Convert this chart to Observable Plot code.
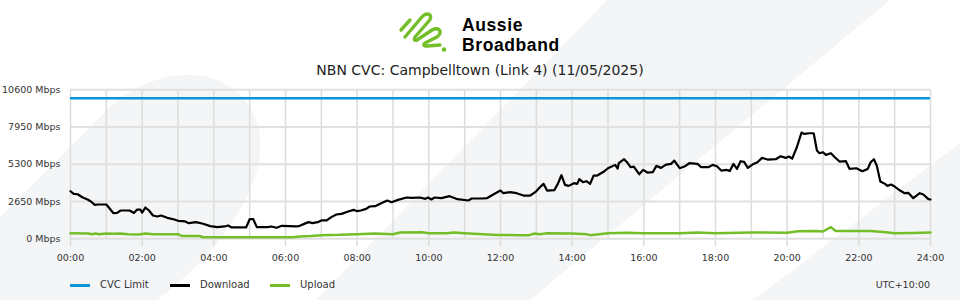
<!DOCTYPE html>
<html>
<head>
<meta charset="utf-8">
<script src="https://cdn.jsdelivr.net/npm/d3@7"></script>
<script src="https://cdn.jsdelivr.net/npm/@observablehq/plot@0.6"></script>
<style>
  body { margin: 0; background: #fff; font-family: "DejaVu Sans", sans-serif; }
  #wrap { position: relative; width: 960px; height: 300px; overflow: hidden; }
  #bg { position: absolute; left: 0; top: 0; }
  #header { position: absolute; left: 0; top: 0; }
  #title { position: absolute; left: 0; top: 61px; width: 960px; text-align: center; font-size: 14px; color: #222; line-height: 18px; }
  #chart { position: absolute; left: 0; top: 80px; }
  #legend { position: absolute; left: 0; top: 277px; width: 960px; height: 16px; font-size: 10px; color: #333; }
  .item { position: absolute; top: 0; height: 16px; line-height: 16px; }
  .sw { position: absolute; top: 7px; width: 20px; height: 2.5px; }
  .lab { position: absolute; left: 30px; white-space: nowrap; }
  #tz { position: absolute; right: 30px; top: 0; line-height: 16px; font-size: 9.5px; }
</style>
</head>
<body>
<div id="wrap">
  <svg id="bg" width="960" height="300">
    <path d="M0,217 L110,107 C150,68 235,55 258,125 C272,175 225,250 157,300 L0,300 Z" fill="#f4f5f7"/>
    <polygon points="607,0 890,0 530,300 316,300" fill="#f4f5f7"/>
    <polygon points="960,143 960,300 753,300" fill="#f4f5f7"/>
  </svg>
  <svg id="header" width="960" height="60">
    <g fill="none" stroke="#74be2a" stroke-width="3.4" stroke-linecap="round" stroke-linejoin="round">
      <path d="M401,30 L410,20"/>
      <path d="M405,37 L421,18 Q426,12 430,15 Q432,18 428,22 L415,37 Q413,41 417,40 L432,30 Q438,27 440,31 Q441,35 435,38 L425,43 Q422,46 427,46 L440,45"/>
    </g>
    <circle cx="444" cy="49.5" r="2.3" fill="#74be2a"/>
    <text x="462" y="30.5" font-family="Liberation Sans" font-weight="700" font-size="17.5" letter-spacing="0.6" fill="#000">Aussie</text>
    <text x="462" y="50.5" font-family="Liberation Sans" font-weight="700" font-size="17.5" letter-spacing="0.6" fill="#000">Broadband</text>
  </svg>
  <div id="title">NBN CVC: Campbelltown (Link 4) (11/05/2025)</div>
  <div id="chart"></div>
  <div id="legend"></div>
</div>
<script>
// ---- data ----
const cvcLimit = 10000;

const downloadTime = [0,0.09,0.2,0.33,0.49,0.56,0.68,0.76,1.0,1.12,1.2,1.3,1.4,1.65,1.77,1.86,1.95,2.0,2.09,2.19,2.3,2.42,2.53,2.7,2.9,3.0,3.2,3.3,3.5,3.7,3.9,4.1,4.3,4.4,4.5,4.9,5.0,5.1,5.2,5.5,5.6,5.75,5.9,6.1,6.3,6.4,6.57,6.65,6.75,6.9,7.0,7.14,7.28,7.42,7.56,7.75,7.9,8.0,8.1,8.25,8.35,8.5,8.7,8.84,8.96,9.14,9.38,9.52,9.75,9.9,9.98,10.07,10.16,10.35,10.58,10.8,11.1,11.2,11.5,11.63,11.86,12.0,12.08,12.27,12.45,12.64,12.83,12.97,13.1,13.2,13.3,13.5,13.6,13.7,13.8,13.9,14.05,14.14,14.2,14.3,14.4,14.5,14.6,14.7,14.9,15.0,15.2,15.27,15.3,15.45,15.53,15.63,15.72,15.87,15.98,16.1,16.25,16.35,16.48,16.62,16.76,16.85,17.0,17.13,17.27,17.5,17.6,17.8,17.92,18.04,18.16,18.3,18.4,18.5,18.6,18.7,18.8,18.9,19.03,19.17,19.3,19.45,19.68,19.82,19.96,20.05,20.14,20.27,20.4,20.48,20.62,20.74,20.83,20.9,21.0,21.08,21.22,21.33,21.46,21.64,21.74,21.93,22.1,22.25,22.33,22.42,22.5,22.6,22.73,22.8,22.9,23.0,23.15,23.28,23.38,23.52,23.7,23.8,23.94,24.0];
const downloadMbps = [3384,3199,3170,2958,2773,2673,2417,2440,2440,2062,1820,1840,2012,2012,1840,2080,2080,1865,2225,2012,1657,1586,1657,1493,1375,1280,1233,1115,1186,1067,902,830,878,949,807,807,1394,1394,830,830,878,783,925,902,878,925,1115,1186,1115,1186,1304,1304,1540,1730,1775,1940,2060,1965,2012,2130,2297,2320,2560,2723,2606,2770,2938,2914,2938,2843,2938,2796,2938,2890,3032,2820,2723,2867,2867,2900,3244,3434,3244,3315,3244,3078,3078,3315,3670,3908,3434,3458,3908,4522,3837,3766,3956,3908,4239,4027,4098,3908,4500,4500,4808,5021,5259,4997,5377,5662,5448,5092,5140,4594,4903,4713,4737,5188,5046,5282,5330,5567,5021,5140,5377,5330,5092,5092,5259,5164,4855,4903,4832,5330,4974,5520,5472,5046,5282,5448,5757,5638,5662,5875,5757,5851,5709,6513,7558,7463,7510,7510,6278,6088,6159,5970,6088,5804,5496,5520,4974,5021,4808,4974,5448,5662,5211,4074,3908,3766,3861,3719,3434,3244,3268,2889,3244,3149,2820,2796];

const uploadTime = [0,0.5,0.6,0.7,0.8,1.0,1.2,1.4,1.6,1.9,2.1,2.3,3.0,3.1,3.6,3.7,6.2,6.4,6.7,7.0,7.5,8.0,8.5,9.0,9.2,9.8,10.0,10.5,10.7,11.0,11.9,12.5,12.8,12.95,13.1,13.3,14.0,14.4,14.5,15.0,15.5,16.0,17.0,17.5,18.0,19.0,20.0,20.3,20.8,21.0,21.22,21.35,22.3,22.6,23.0,23.5,24.0];
const uploadMbps = [400,380,330,380,330,380,360,380,330,310,380,330,330,200,200,114,114,170,200,260,280,330,380,330,450,470,400,400,450,400,270,260,260,380,330,400,380,330,260,400,430,400,400,440,400,450,430,540,560,520,830,560,560,500,400,420,450];

const yTicks = [0, 2650, 5300, 7950, 10600];
const hourGrid = [0,1,2,3,4,5,6,7,8,9,10,11,12,13,14,15,16,17,18,19,20,21,22,23,24];
const labelHours = [0,2,4,6,8,10,12,14,16,18,20,22,24];
const labelText = ["00:00","02:00","04:00","06:00","08:00","10:00","12:00","14:00","16:00","18:00","20:00","22:00","24:00"];

const seriesNames = ["CVC Limit", "Download", "Upload"];
const seriesColors = ["#0a96d6", "#000000", "#74be2a"];
const timezone = "UTC+10:00";

// ---- build tables ----
const download = downloadTime.map((t, i) => ({t, v: downloadMbps[i]}));
const upload = uploadTime.map((t, i) => ({t, v: uploadMbps[i]}));

const chart = Plot.plot({
  width: 960,
  height: 185,
  marginLeft: 70,
  marginRight: 30,
  marginTop: 9.3,
  marginBottom: 26.7,
  style: { fontFamily: "DejaVu Sans", fontSize: "9.5px", color: "#333", background: "transparent" },
  x: { domain: [0, 24] },
  y: { domain: [0, 10600] },
  marks: [
    Plot.gridX(hourGrid, { stroke: "#dcdcdc", strokeOpacity: 1, strokeWidth: 1.5 }),
    Plot.gridY(yTicks, { stroke: "#e0e0e0", strokeOpacity: 1, strokeWidth: 2 }),
    Plot.axisY(yTicks, { tickSize: 0, tickPadding: 10, label: null, tickFormat: d => `${d} Mbps` }),
    Plot.axisX(labelHours, { tickSize: 8, tickPadding: 7, label: null, stroke: "#dcdcdc", strokeWidth: 1.5, fill: "#333",
      tickFormat: d => labelText[labelHours.indexOf(d)] }),
    Plot.ruleY([cvcLimit], { stroke: seriesColors[0], strokeWidth: 2.5 }),
    Plot.line(upload, { x: "t", y: "v", stroke: seriesColors[2], strokeWidth: 2.5 }),
    Plot.line(download, { x: "t", y: "v", stroke: seriesColors[1], strokeWidth: 2.2 })
  ]
});
document.getElementById("chart").appendChild(chart);

// ---- legend ----
const legend = document.getElementById("legend");
const lefts = [70, 170, 270];
seriesNames.forEach((name, i) => {
  const it = document.createElement("div");
  it.className = "item";
  it.style.left = lefts[i] + "px";
  it.innerHTML = `<span class="sw" style="background:${seriesColors[i]}"></span><span class="lab">${name}</span>`;
  legend.appendChild(it);
});
const tz = document.createElement("div");
tz.id = "tz";
tz.textContent = timezone;
legend.appendChild(tz);
</script>
</body>
</html>
